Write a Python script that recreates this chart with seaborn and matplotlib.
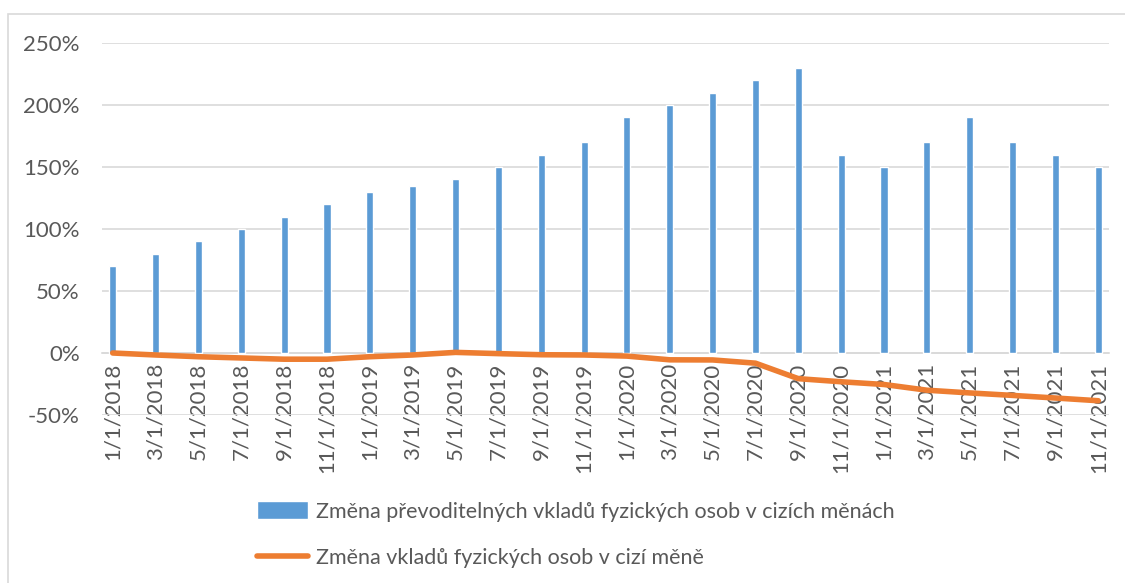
import numpy as np
import pandas as pd
import seaborn as sns
import matplotlib.pyplot as plt
from matplotlib.patches import Rectangle
from matplotlib.ticker import FuncFormatter, MultipleLocator

# data (percent)
dates = ["1/1/2018", "3/1/2018", "5/1/2018", "7/1/2018", "9/1/2018", "11/1/2018",
         "1/1/2019", "3/1/2019", "5/1/2019", "7/1/2019", "9/1/2019", "11/1/2019",
         "1/1/2020", "3/1/2020", "5/1/2020", "7/1/2020", "9/1/2020", "11/1/2020",
         "1/1/2021", "3/1/2021", "5/1/2021", "7/1/2021", "9/1/2021", "11/1/2021"]
transferable = [70, 80, 90, 100, 110, 120, 130, 135, 140, 150, 160, 170,
                190, 200, 210, 220, 230, 160, 150, 170, 190, 170, 160, 150]
deposits = [0, -1.6, -3, -4, -5, -5, -3, -1.6, 0.5, -0.5, -1.4, -1.6,
            -2.5, -5.5, -5.6, -8.2, -20.7, -23.2, -25.4, -30, -32.2, -34.2, -36.3, -38.5]

bar_label = "Změna převoditelných vkladů fyzických osob v cizích měnách"
line_label = "Změna vkladů fyzických osob v cizí měně"

BLUE = "#5B9BD5"
ORANGE = "#ED7D31"
GRID = "#D9D9D9"
TEXT = "#595959"

sns.set_style("white")
plt.rcParams["font.family"] = ["Lato", "DejaVu Sans"]

df = pd.DataFrame({"date": dates, "transferable": transferable, "deposits": deposits})

fig = plt.figure(figsize=(11.25, 5.83), dpi=100)
ax = fig.add_axes([102 / 1125, 1 - 415 / 583, (1109 - 102) / 1125, (415 - 43) / 583])

sns.barplot(data=df, x="date", y="transferable", color=BLUE, width=0.165,
            saturation=1, ax=ax, label=bar_label, zorder=3)
sns.lineplot(x=np.arange(len(df)), y=df["deposits"], color=ORANGE, linewidth=4,
             ax=ax, label=line_label, zorder=4)

ax.set_xlim(-0.25, len(df) - 0.75)
ax.set_ylim(-50, 250)
ax.yaxis.set_major_locator(MultipleLocator(50))
ax.yaxis.set_major_formatter(FuncFormatter(lambda v, p: f"{v:.0f}%"))
ax.grid(axis="y", color=GRID, linewidth=1.2, zorder=0)
ax.set_xlabel("")
ax.set_ylabel("")

for s in ["top", "right", "left"]:
    ax.spines[s].set_visible(False)
ax.spines["bottom"].set_position(("data", 0))
ax.spines["bottom"].set_color(GRID)
ax.spines["bottom"].set_linewidth(1.2)
ax.spines["bottom"].set_zorder(2)

ax.set_xticks(np.arange(len(df)))
ax.set_xticklabels(dates, rotation=90)
ax.set_xticks(np.arange(len(df)) - 0.25, minor=True)
ax.tick_params(axis="x", which="major", length=0, pad=7, labelsize=16, labelcolor=TEXT)
ax.tick_params(axis="x", which="minor", length=6, width=1.2, color=GRID, direction="out")
ax.tick_params(axis="y", length=0, pad=16, labelsize=16, labelcolor=TEXT)

ax.get_legend().remove()
handles, labels = ax.get_legend_handles_labels()
order = [labels.index(bar_label), labels.index(line_label)]
fig.legend([handles[i] for i in order], [labels[i] for i in order],
           loc="center left", bbox_to_anchor=(246 / 1125, 0.083),
           frameon=False, fontsize=15.5, labelcolor=TEXT, handlelength=2.4,
           handleheight=0.9, handletextpad=0.35, labelspacing=1.2, borderpad=0)

# light chart-area border
fig.patches.append(Rectangle((8 / 1125, -0.1), 1.2, 1 - 14 / 583 + 0.1,
                             transform=fig.transFigure, fill=False,
                             edgecolor=GRID, linewidth=1.2))

fig.savefig("out.png", dpi=100)
